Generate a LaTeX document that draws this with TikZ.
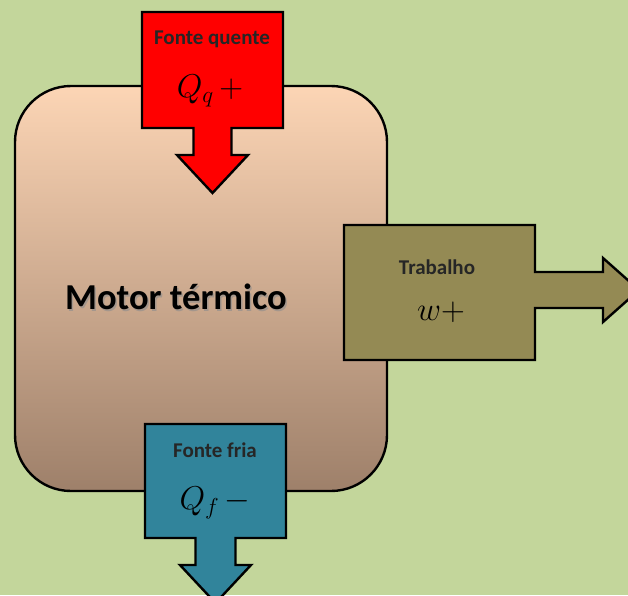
\RequirePackage{fix-cm}
\documentclass[tikz,border=0pt]{standalone}
\usepackage{fontspec}
\setmainfont{Carlito}
\definecolor{bggreen}{HTML}{C3D69B}
\definecolor{enginetop}{HTML}{FCD5B5}
\definecolor{enginebot}{HTML}{9E806A}
\definecolor{hotred}{HTML}{FF0000}
\definecolor{workolive}{HTML}{948A54}
\definecolor{coldblue}{HTML}{31849B}
\begin{document}
\begin{tikzpicture}[x=1pt,y=-1pt,
  blockarrow/.style={draw=black, line width=2.4pt, line join=miter},
  lbl/.style={font=\bfseries\fontsize{21}{21}\selectfont, text=black!85, inner sep=0pt},
  mathlbl/.style={font=\fontsize{33}{33}\selectfont, inner sep=0pt},
  bigtext/.style={font=\bfseries\fontsize{36.5}{36.5}\selectfont, inner sep=0pt}]
\fill[bggreen] (0,0) rectangle (628,595);
\useasboundingbox (0,0) rectangle (628,595);
% engine
\node[draw=black, line width=2.4pt, rounded corners=56pt, minimum width=372pt,
      minimum height=405pt, top color=enginetop, bottom color=enginebot,
      inner sep=0pt] (motor) at (201,288.5) {};
\node[bigtext, text=black!45, opacity=0.6] (motorshadow) at (177.5,298.5) {Motor térmico};
\node[bigtext, text=black] (motorlabel) at (176,297) {Motor térmico};
% hot source arrow
\path[blockarrow, fill=hotred]
  (142,12) -- (283,12) -- (283,128) -- (231.5,128) -- (231.5,155) -- (248,155)
  -- (212.5,193) -- (177,155) -- (193.5,155) -- (193.5,128) -- (142,128) -- cycle;
\node[lbl] (fq) at (212,39) {Fonte quente};
\node[mathlbl] (qq) at (210,91) {$Q_q\,+$};
% work arrow
\path[blockarrow, fill=workolive]
  (344,225) -- (535,225) -- (535,272) -- (603,272) -- (603,258) -- (639,290)
  -- (603,322) -- (603,308) -- (535,308) -- (535,360) -- (344,360) -- cycle;
\node[lbl] (tr) at (437,267) {Trabalho};
\node[mathlbl] (ww) at (441,312) {$w+$};
% cold sink arrow
\path[blockarrow, fill=coldblue]
  (145,424) -- (286,424) -- (286,538) -- (235.5,538) -- (235.5,565) -- (251,565)
  -- (215.5,603) -- (180,565) -- (195.5,565) -- (195.5,538) -- (145,538) -- cycle;
\node[lbl] (ff) at (215,450) {Fonte fria};
\node[mathlbl] (qf) at (215,503) {$Q_f\,-$};
\end{tikzpicture}
\end{document}
